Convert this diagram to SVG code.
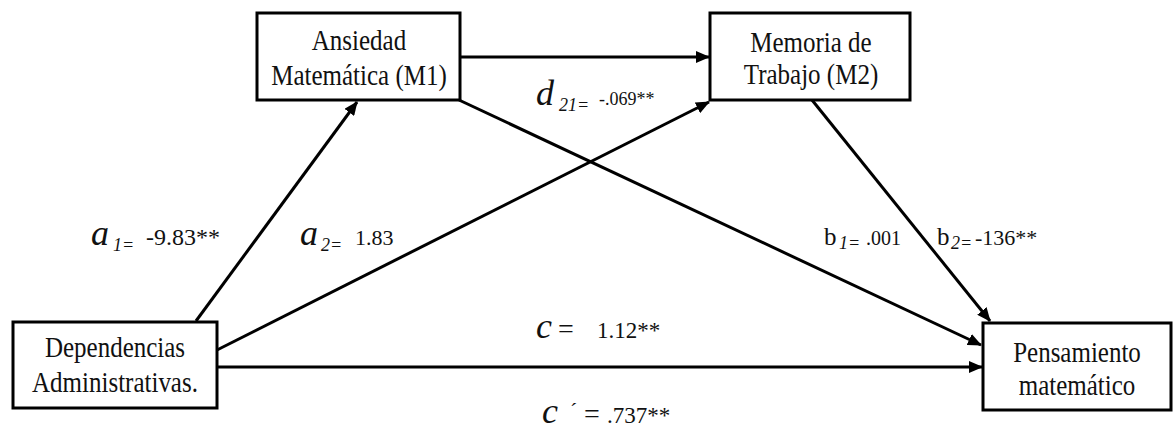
<svg xmlns="http://www.w3.org/2000/svg" width="1173" height="429" viewBox="0 0 1173 429">
<style>
.box{fill:#fff;stroke:#000;stroke-width:3}
.nt{font-family:"Liberation Serif","Times New Roman",serif;font-size:25px;fill:#111;text-anchor:middle}
.lbl{font-family:"Liberation Serif","Times New Roman",serif;fill:#111}
.sym{font-style:italic;font-size:36px}
.sub{font-style:italic;font-size:18px}
.conn line{stroke:#000;stroke-width:3;marker-end:url(#ah)}
</style>
<defs>
<marker id="ah" markerUnits="userSpaceOnUse" markerWidth="14" markerHeight="12" viewBox="0 0 14 12" refX="13" refY="6" orient="auto">
<path d="M0,0 L14,6 L0,12 z" fill="#000"/>
</marker>
</defs>
<rect width="1173" height="429" fill="#fff"/>
<g id="connectors" class="conn">
<line x1="196" y1="321" x2="357" y2="102"/>
<line x1="217" y1="350" x2="709" y2="102"/>
<line x1="460" y1="57" x2="709" y2="57"/>
<line x1="459" y1="100" x2="981" y2="345"/>
<line x1="812" y1="100" x2="990" y2="321"/>
<line x1="217" y1="367" x2="982" y2="367"/>
</g>
<g id="m1">
<rect class="box" x="257" y="13" width="203" height="87"/>
<text class="nt" transform="translate(359,50) scale(1,1.18)">Ansiedad</text>
<text class="nt" transform="translate(359,85) scale(1,1.18)">Matemática (M1)</text>
</g>
<g id="m2">
<rect class="box" x="710" y="13" width="200" height="87"/>
<text class="nt" transform="translate(811,52) scale(1,1.18)">Memoria de</text>
<text class="nt" transform="translate(811,84) scale(1,1.18)">Trabajo (M2)</text>
</g>
<g id="dep">
<rect class="box" x="13" y="322" width="204" height="86"/>
<text class="nt" transform="translate(115,357) scale(1,1.18)">Dependencias</text>
<text class="nt" transform="translate(115,392) scale(1,1.18)">Administrativas.</text>
</g>
<g id="pens">
<rect class="box" x="983" y="323" width="188" height="87"/>
<text class="nt" transform="translate(1077,362) scale(1,1.18)">Pensamiento</text>
<text class="nt" transform="translate(1077,395) scale(1,1.18)">matemático</text>
</g>
<g id="labels" class="lbl">
<text><tspan class="sym" x="91" y="245">a</tspan><tspan class="sub" x="113" y="251">1=</tspan><tspan x="146" y="245" font-size="24">-9.83**</tspan></text>
<text><tspan class="sym" x="300" y="245">a</tspan><tspan class="sub" x="321" y="251">2=</tspan><tspan x="355" y="245" font-size="22">1.83</tspan></text>
<text><tspan class="sym" x="536" y="105">d</tspan><tspan class="sub" x="559" y="111" font-size="17">21=</tspan><tspan x="599" y="105" font-size="18">-.069**</tspan></text>
<text><tspan x="824" y="245" font-size="25">b</tspan><tspan class="sub" x="839" y="249">1=</tspan><tspan x="866" y="245" font-size="20">.001</tspan></text>
<text><tspan x="937" y="245" font-size="25">b</tspan><tspan class="sub" x="951" y="249" font-size="17">2=</tspan><tspan x="975" y="245" font-size="22">-136**</tspan></text>
<text><tspan class="sym" x="536" y="338">c</tspan><tspan x="558" y="338" font-size="28">=</tspan><tspan x="597" y="338" font-size="23">1.12**</tspan></text>
<text><tspan class="sym" x="542" y="423">c</tspan><tspan x="570" y="418" font-size="22">´</tspan><tspan x="584" y="423" font-size="28">=</tspan><tspan x="607" y="423" font-size="23">.737**</tspan></text>
</g>
</svg>
